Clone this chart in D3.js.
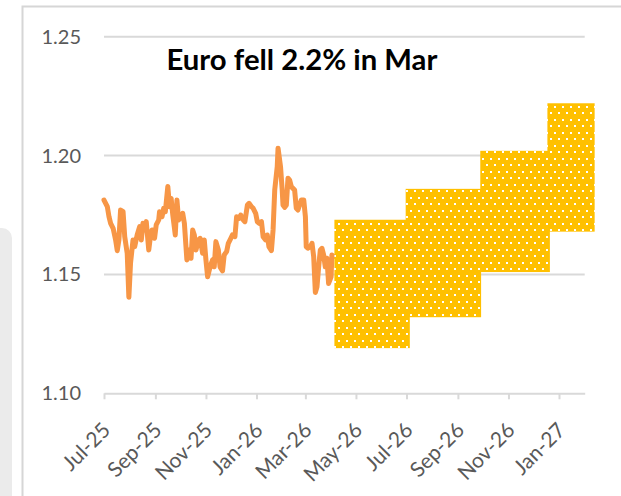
<html>
<head>
	<title>euro</title>
	<style>
		body {
			margin: 0;
			padding: 0;
			background: #fff;
		}
		svg text {
			font-family: "Lato", "Noto Sans", sans-serif;
		}
	</style>
</head>
<body>
	<svg id="chart" width="621" height="496"></svg>

	<script src="https://d3js.org/d3.v7.min.js"></script>
	<script>

		// EUR/USD, daily
		var fxDates = [
			"2025-07-01","2025-07-05","2025-07-07","2025-07-09","2025-07-12","2025-07-15","2025-07-17","2025-07-19","2025-07-21","2025-07-24",
			"2025-07-26","2025-07-29","2025-07-31","2025-08-02","2025-08-05","2025-08-07","2025-08-10","2025-08-13","2025-08-15","2025-08-17",
			"2025-08-19","2025-08-21","2025-08-24","2025-08-26","2025-08-28","2025-08-31","2025-09-02","2025-09-05","2025-09-06","2025-09-09",
			"2025-09-11","2025-09-13","2025-09-16","2025-09-18","2025-09-20","2025-09-22","2025-09-25","2025-09-27","2025-09-29","2025-10-02",
			"2025-10-04","2025-10-06","2025-10-09","2025-10-11","2025-10-14","2025-10-16","2025-10-18","2025-10-20","2025-10-23","2025-10-25",
			"2025-10-28","2025-10-30","2025-11-01","2025-11-03","2025-11-06","2025-11-09","2025-11-11","2025-11-13","2025-11-16","2025-11-18",
			"2025-11-21","2025-11-23","2025-11-26","2025-11-28","2025-12-01","2025-12-03","2025-12-06","2025-12-08","2025-12-11","2025-12-13",
			"2025-12-16","2025-12-18","2025-12-21","2025-12-23","2025-12-26","2025-12-28","2025-12-31","2026-01-02","2026-01-04","2026-01-07",
			"2026-01-09","2026-01-12","2026-01-14","2026-01-16","2026-01-19","2026-01-21","2026-01-23","2026-01-26","2026-01-27","2026-01-30",
			"2026-02-01","2026-02-02","2026-02-04","2026-02-06","2026-02-08","2026-02-10","2026-02-12","2026-02-14","2026-02-16","2026-02-18",
			"2026-02-20","2026-02-22","2026-02-24","2026-02-27","2026-03-01","2026-03-02","2026-03-04","2026-03-07","2026-03-09","2026-03-11",
			"2026-03-13","2026-03-15","2026-03-17","2026-03-19","2026-03-21","2026-03-23","2026-03-25","2026-03-27","2026-03-29","2026-04-01",
			"2026-04-02","2026-04-04"
		];
		var fxValues = [
			1.1813,1.1785,1.1743,1.1715,1.1694,1.1645,1.1600,1.1645,1.1771,1.1764,
			1.1659,1.1589,1.1404,1.1547,1.1645,1.1617,1.1666,1.1701,1.1645,1.1715,
			1.1687,1.1722,1.1603,1.1659,1.1687,1.1652,1.1708,1.1729,1.1764,1.1743,
			1.1778,1.1764,1.1870,1.1785,1.1820,1.1750,1.1666,1.1813,1.1729,1.1743,
			1.1757,1.1715,1.1561,1.1603,1.1568,1.1687,1.1666,1.1603,1.1645,1.1652,
			1.1589,1.1645,1.1561,1.1490,1.1532,1.1561,1.1532,1.1638,1.1603,1.1532,
			1.1515,1.1582,1.1596,1.1631,1.1652,1.1666,1.1659,1.1743,1.1736,1.1750,
			1.1729,1.1722,1.1792,1.1799,1.1785,1.1778,1.1757,1.1722,1.1715,1.1722,
			1.1659,1.1645,1.1666,1.1617,1.1600,1.1687,1.1855,1.1953,1.2031,1.1953,
			1.1855,1.1792,1.1782,1.1792,1.1905,1.1897,1.1869,1.1862,1.1855,1.1778,
			1.1771,1.1792,1.1813,1.1813,1.1743,1.1617,1.1610,1.1617,1.1631,1.1575,
			1.1424,1.1448,1.1532,1.1603,1.1610,1.1582,1.1532,1.1568,1.1462,1.1490,
			1.1582,1.1575
		];

		// forecast ranges, one box per quarter
		var boxStart = ["2026-04-05","2026-06-30","2026-09-28","2026-12-18"];
		var boxEnd   = ["2026-07-05","2026-09-29","2026-12-21","2027-02-13"];
		var boxLow   = [1.119, 1.132, 1.151, 1.168];
		var boxHigh  = [1.173, 1.186, 1.202, 1.222];

		var yTicks = [1.10, 1.15, 1.20, 1.25];
		var title = "Euro fell 2.2% in Mar";

		var parse = d3.timeParse("%Y-%m-%d");
		var lineColour = "#F79646";
		var boxColour = "#FFC000";
		var gridColour = "#d9d9d9";
		var labelColour = "#595959";

		var svg = d3.select("#chart");

		// sfondo: pannello grigio a sinistra e cornice
		svg.append("rect")
			.attr("x", -20).attr("y", 228)
			.attr("width", 32).attr("height", 300)
			.attr("rx", 10)
			.style("fill", "#ebebeb");

		svg.append("rect")
			.attr("x", 22.5).attr("y", 6.5)
			.attr("width", 700).attr("height", 600)
			.style("fill", "#fff")
			.style("stroke", "#d6d6d6")
			.style("stroke-width", 2);

		var x = d3.scaleTime()
			.domain([parse("2025-07-01"), parse("2027-02-01")])
			.range([104, 584.7]);

		var y = d3.scaleLinear()
			.domain([1.10, 1.25])
			.range([393.3, 36.7]);

		// dotted pattern for the boxes
		var pattern = svg.append("defs")
			.append("pattern")
			.attr("id", "dots")
			.attr("patternUnits", "userSpaceOnUse")
			.attr("width", 8)
			.attr("height", 13);
		pattern.append("rect").attr("width", 8).attr("height", 13).style("fill", boxColour);
		pattern.append("rect").attr("x", 2).attr("y", 2).attr("width", 2).attr("height", 2).style("fill", "#fff");
		pattern.append("rect").attr("x", 6).attr("y", 8).attr("width", 2).attr("height", 2).style("fill", "#fff");

		// gridlines
		svg.append("g")
			.selectAll("line")
			.data(yTicks.slice(1))
			.enter()
			.append("line")
			.attr("x1", x.range()[0])
			.attr("x2", x.range()[1])
			.attr("y1", function(d){ return y(d) })
			.attr("y2", function(d){ return y(d) })
			.style("stroke", gridColour)
			.style("stroke-width", 2);

		// y labels
		svg.append("g")
			.selectAll("text")
			.data(yTicks)
			.enter()
			.append("text")
			.attr("x", 81)
			.attr("y", function(d){ return y(d) })
			.attr("dy", "0.35em")
			.attr("text-anchor", "end")
			.style("font-size", "20px")
			.style("fill", labelColour)
			.text(function(d){ return d3.format(".2f")(d) });

		// x axis
		var xAxis = d3.axisBottom(x)
			.ticks(d3.timeMonth.every(2))
			.tickFormat(d3.timeFormat("%b-%y"))
			.tickSize(6)
			.tickSizeOuter(0);

		var axisG = svg.append("g")
			.attr("transform", "translate(0," + y(1.10) + ")")
			.call(xAxis);

		axisG.select(".domain").style("stroke", gridColour).style("stroke-width", 2);
		axisG.selectAll(".tick line").style("stroke", gridColour).style("stroke-width", 2);
		axisG.selectAll(".tick text")
			.attr("y", 0)
			.attr("dy", "0.35em")
			.attr("text-anchor", "end")
			.attr("transform", "translate(2,33) rotate(-45)")
			.style("font-family", "Lato, sans-serif")
			.style("font-size", "21px")
			.style("fill", labelColour);

		// line
		var points = fxDates.map(function(d, i){
			return {date: parse(d), value: fxValues[i]}
		});

		var line = d3.line()
			.x(function(d){ return x(d.date) })
			.y(function(d){ return y(d.value) });

		svg.append("path")
			.datum(points)
			.attr("d", line)
			.style("fill", "none")
			.style("stroke", lineColour)
			.style("stroke-width", 5)
			.style("stroke-linejoin", "round")
			.style("stroke-linecap", "round");

		// boxes
		svg.append("g")
			.selectAll("rect")
			.data(boxStart)
			.enter()
			.append("rect")
			.attr("x", function(d){ return x(parse(d)) })
			.attr("width", function(d, i){ return x(parse(boxEnd[i])) - x(parse(d)) })
			.attr("y", function(d, i){ return y(boxHigh[i]) })
			.attr("height", function(d, i){ return y(boxLow[i]) - y(boxHigh[i]) })
			.style("fill", "url(#dots)");

		// titolo
		var t = svg.append("text")
			.attr("x", 166.5)
			.attr("y", 69.5)
			.style("font-weight", "bold")
			.style("font-size", "24px")
			.style("fill", "#000")
			.text(title);
		var w = t.node().getComputedTextLength();
		t.style("font-size", (24 * 271 / w) + "px");

	</script>
</body>
</html>
